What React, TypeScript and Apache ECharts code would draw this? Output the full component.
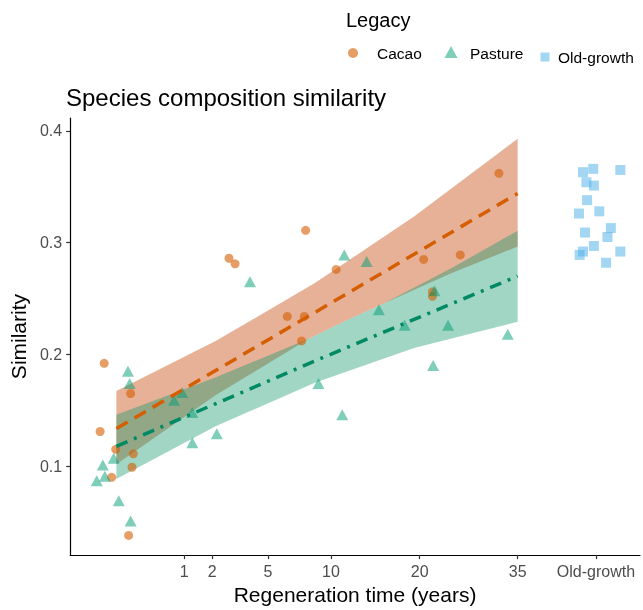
import React, { useEffect, useRef } from 'react';
import * as echarts from 'echarts';

const FONT = '"Liberation Sans", Arial, Helvetica, sans-serif';

// x axis is a square-root time axis: position = sqrt(years) (points at 0 years are jittered)
const tickYears = [1, 2, 5, 10, 20, 35];
const oldGrowthYears = 50; // column where old-growth reference plots are drawn
const xTickLabels = ['1', '2', '5', '10', '20', '35', 'Old-growth'];
const yTicks = [0.1, 0.2, 0.3, 0.4];

// Cacao legacy (orange circles)
const cacaoX = [-0.18, 0.21, -0.24, -0.01, 0.25, 0.23, -0.07, 0.18, 1.66, 1.75, 2.79, 3.24, 2.52, 2.77, 2.73, 4.53, 5.07, 4.66, 4.66, 5.64];
const cacaoY = [0.192, 0.165, 0.131, 0.115, 0.111, 0.099, 0.090, 0.038, 0.286, 0.281, 0.311, 0.276, 0.234, 0.234, 0.212, 0.285, 0.289, 0.256, 0.252, 0.362];

// Pasture legacy (green triangles)
const pastureX = [0.17, 0.196, 0.97, 0.85, 1.12, 1.12, 1.48, -0.04, -0.2, -0.17, -0.29, 0.035, 0.21, 1.97, 3.36, 3.69, 3.87, 4.69, 4.25, 4.89, 5.77, 2.98, 3.33, 4.67];
const pastureY = [0.185, 0.174, 0.166, 0.159, 0.148, 0.121, 0.129, 0.107, 0.101, 0.091, 0.087, 0.069, 0.051, 0.265, 0.289, 0.283, 0.240, 0.257, 0.226, 0.226, 0.218, 0.174, 0.146, 0.190];

// Old-growth (blue squares)
const oldX = [6.88, 7.03, 7.43, 6.93, 7.04, 6.94, 7.12, 6.82, 6.91, 7.29, 7.24, 7.04, 6.88, 6.83, 7.43, 7.22];
const oldY = [0.363, 0.366, 0.365, 0.354, 0.351, 0.338, 0.328, 0.326, 0.309, 0.313, 0.305, 0.297, 0.292, 0.289, 0.292, 0.282];

// Fitted lines
const cacaoFitX = [0, 2.94, 5.916];
const cacaoFitY = [0.1336, 0.238, 0.344];
const pastureFitX = [0, 3.04, 5.916];
const pastureFitY = [0.1177, 0.197, 0.270];

// Confidence bands
const cacaoUpX = [0, 1.463, 2.926, 4.389, 5.916];
const cacaoUpY = [0.1673, 0.2119, 0.2638, 0.3233, 0.393];
const cacaoLoX = [0, 1.468, 2.843, 3.399, 3.955, 4.936, 5.916];
const cacaoLoY = [0.1018, 0.1637, 0.2142, 0.2305, 0.246, 0.2726, 0.2965];
const pastureUpX = [0, 1.468, 2.843, 3.399, 3.955, 4.936, 5.916];
const pastureUpY = [0.146, 0.1796, 0.2142, 0.2305, 0.246, 0.277, 0.3106];
const pastureLoX = [0, 1.463, 2.926, 4.389, 5.916];
const pastureLoY = [0.0885, 0.1356, 0.1746, 0.2056, 0.2292];

const ORANGE = '#D55E00';
const GREEN = '#009E73';
const BLUE = '#56B4E9';

const zip = (xs: number[], ys: number[]) => xs.map((x, i) => [x, ys[i]]);

const xTickPositions = [...tickYears, oldGrowthYears].map((y) => Math.sqrt(y));

function bandSeries(ux: number[], uy: number[], lx: number[], ly: number[], fill: string) {
  return {
    type: 'custom',
    data: [[3, 0.2]],
    silent: true,
    z: 1,
    clip: true,
    renderItem: (_params: any, api: any) => {
      const pts: number[][] = [];
      for (let i = 0; i < ux.length; i++) pts.push(api.coord([ux[i], uy[i]]));
      for (let i = lx.length - 1; i >= 0; i--) pts.push(api.coord([lx[i], ly[i]]));
      return { type: 'polygon', shape: { points: pts }, style: { fill } };
    },
  };
}

export default function App() {
  const ref = useRef<HTMLDivElement>(null);
  useEffect(() => {
    const chart = echarts.init(ref.current!, null, { renderer: 'svg' });
    const option: any = {
      animation: false,
      textStyle: { fontFamily: FONT },
      title: {
        text: 'Species composition similarity',
        left: 66,
        top: 85,
        padding: 0,
        textStyle: { fontSize: 24, fontWeight: 'normal', color: '#000', fontFamily: FONT },
      },
      grid: { left: 66, right: 3, top: 118, bottom: 50 },
      xAxis: {
        type: 'value',
        min: -0.682,
        max: 7.72,
        splitLine: { show: false },
        axisLine: { show: true, onZero: false, lineStyle: { color: '#000', width: 1.2 } },
        axisTick: { show: true, length: 4, customValues: xTickPositions, lineStyle: { color: '#333', width: 1.2 } },
        axisLabel: {
          customValues: xTickPositions,
          formatter: (v: number) => {
            let best = 0;
            xTickPositions.forEach((p, i) => {
              if (Math.abs(p - v) < Math.abs(xTickPositions[best] - v)) best = i;
            });
            return xTickLabels[best];
          },
          fontSize: 16,
          color: '#4d4d4d',
          margin: 8,
          fontFamily: FONT,
        },
        name: 'Regeneration time (years)',
        nameLocation: 'middle',
        nameGap: 28,
        nameTextStyle: { fontSize: 21, color: '#000', fontFamily: FONT },
      },
      yAxis: {
        type: 'value',
        min: 0.0204,
        max: 0.4115,
        splitLine: { show: false },
        axisLine: { show: true, onZero: false, lineStyle: { color: '#000', width: 1.2 } },
        axisTick: { show: true, length: 4, customValues: yTicks, lineStyle: { color: '#333', width: 1.2 } },
        axisLabel: {
          customValues: yTicks,
          formatter: (v: number) => v.toFixed(1),
          fontSize: 16,
          color: '#4d4d4d',
          margin: 8,
          fontFamily: FONT,
        },
        name: 'Similarity',
        nameLocation: 'middle',
        nameRotate: 90,
        nameGap: 38,
        nameTextStyle: { fontSize: 21, color: '#000', fontFamily: FONT },
      },
      graphic: [
        { type: 'text', left: 346, top: 10, style: { text: 'Legacy', fontSize: 20, fill: '#000', fontFamily: FONT } },
        { type: 'circle', shape: { cx: 353, cy: 53, r: 5 }, style: { fill: ORANGE, opacity: 0.6 } },
        { type: 'text', x: 377, y: 53, style: { text: 'Cacao', fontSize: 15.5, fill: '#000', fontFamily: FONT, verticalAlign: 'middle' } },
        { type: 'polygon', shape: { points: [[451, 46], [457.5, 58], [444.5, 58]] }, style: { fill: GREEN, opacity: 0.5 } },
        { type: 'text', x: 470, y: 53, style: { text: 'Pasture', fontSize: 15.5, fill: '#000', fontFamily: FONT, verticalAlign: 'middle' } },
        { type: 'rect', shape: { x: 540.5, y: 52.5, width: 9, height: 9 }, style: { fill: BLUE, opacity: 0.55 } },
        { type: 'text', x: 558, y: 57, style: { text: 'Old-growth', fontSize: 15.5, fill: '#000', fontFamily: FONT, verticalAlign: 'middle' } },
      ],
      series: [
        bandSeries(cacaoUpX, cacaoUpY, cacaoLoX, cacaoLoY, 'rgba(208,100,48,0.5)'),
        bandSeries(pastureUpX, pastureUpY, pastureLoX, pastureLoY, 'rgba(20,152,110,0.4)'),
        {
          type: 'scatter',
          name: 'Cacao',
          data: zip(cacaoX, cacaoY),
          symbol: 'circle',
          symbolSize: 9,
          itemStyle: { color: ORANGE, opacity: 0.6 },
          z: 3,
        },
        {
          type: 'scatter',
          name: 'Pasture',
          data: zip(pastureX, pastureY),
          symbol: 'triangle',
          symbolSize: [12, 11],
          itemStyle: { color: GREEN, opacity: 0.5 },
          z: 3,
        },
        {
          type: 'scatter',
          name: 'Old-growth',
          data: zip(oldX, oldY),
          symbol: 'rect',
          symbolSize: 10,
          itemStyle: { color: BLUE, opacity: 0.55 },
          z: 3,
        },
        {
          type: 'line',
          data: zip(cacaoFitX, cacaoFitY),
          showSymbol: false,
          symbol: 'none',
          lineStyle: { color: ORANGE, width: 3.5, type: [13, 8] },
          z: 5,
        },
        {
          type: 'line',
          data: zip(pastureFitX, pastureFitY),
          showSymbol: false,
          symbol: 'none',
          lineStyle: { color: '#008A63', width: 3.5, type: [12, 7, 3, 7] },
          z: 5,
        },
      ],
    };
    chart.setOption(option);
    return () => chart.dispose();
  }, []);
  return <div ref={ref} style={{ position: 'fixed', left: 0, top: 0, width: 643, height: 610 }} />;
}
